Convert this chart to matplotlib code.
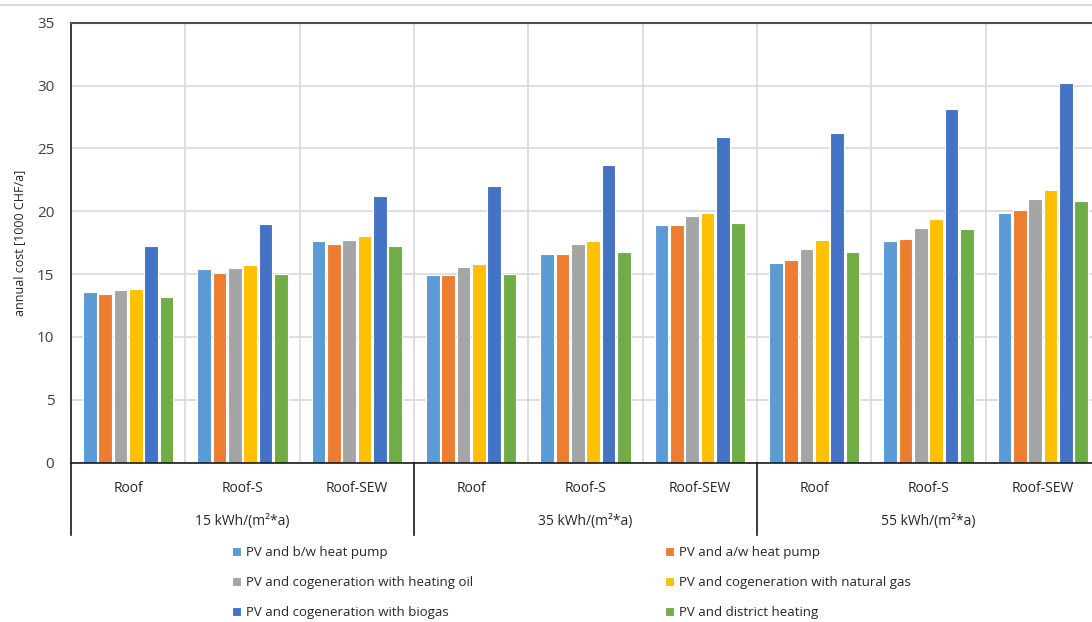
import numpy as np
import matplotlib.pyplot as plt
from matplotlib.lines import Line2D

plt.rcParams['font.family'] = ['Open Sans', 'DejaVu Sans']

roofs = ["Roof", "Roof-S", "Roof-SEW"]
demands = ["15 kWh/(m²*a)", "35 kWh/(m²*a)", "55 kWh/(m²*a)"]

series_names = [
    "PV and b/w heat pump",
    "PV and a/w heat pump",
    "PV and cogeneration with heating oil",
    "PV and cogeneration with natural gas",
    "PV and cogeneration with biogas",
    "PV and district heating",
]
colors = ["#5B9BD5", "#ED7D31", "#A5A5A5", "#FFC000", "#4472C4", "#70AD47"]

# annual cost per case, order: 15 Roof, Roof-S, Roof-SEW, 35 ..., 55 ...
bw_heat_pump = [13.6, 15.4, 17.6, 14.9, 16.6, 18.9, 15.9, 17.6, 19.9]
aw_heat_pump = [13.4, 15.1, 17.4, 14.9, 16.6, 18.9, 16.1, 17.8, 20.1]
cogen_oil    = [13.7, 15.5, 17.7, 15.6, 17.4, 19.6, 17.0, 18.7, 21.0]
cogen_gas    = [13.8, 15.7, 18.0, 15.8, 17.6, 19.9, 17.7, 19.4, 21.7]
cogen_biogas = [17.2, 19.0, 21.2, 22.0, 23.7, 25.9, 26.2, 28.1, 30.2]
district     = [13.2, 15.0, 17.2, 15.0, 16.8, 19.1, 16.8, 18.6, 20.8]

values = [bw_heat_pump, aw_heat_pump, cogen_oil, cogen_gas, cogen_biogas, district]

fig = plt.figure(figsize=(10.92, 6.22), dpi=100)
ax = fig.add_axes([71 / 1092, 159.3 / 622, 1029 / 1092, 440 / 622])

n_cat = len(roofs) * len(demands)
x = np.arange(n_cat)
slot = 0.134
for i, (vals, c) in enumerate(zip(values, colors)):
    ax.bar(x + (i - 2.5) * slot, vals, width=0.118, color=c,
           edgecolor="white", linewidth=0.8, zorder=2, label=series_names[i])

ax.set_xlim(-0.5, n_cat - 0.5)
ax.set_ylim(0, 35)
ax.set_yticks(range(0, 36, 5))
ax.tick_params(axis="y", length=0, pad=12, labelsize=11, labelcolor="#404040")
ax.set_xticks([])
ax.grid(axis="y", color="#D9D9D9", linewidth=1.2, zorder=0)
for b in np.arange(0.5, n_cat - 0.5, 1):
    ax.axvline(b, color="#D9D9D9", linewidth=1.2, zorder=0)

for s in ["left", "bottom"]:
    ax.spines[s].set_color("#1a1a1a")
    ax.spines[s].set_linewidth(1.2)
ax.spines["top"].set_color("#505050")
ax.spines["top"].set_linewidth(1.5)
ax.spines["right"].set_visible(False)

ax.set_ylabel("annual cost [1000 CHF/a]", fontsize=9, color="#262626", labelpad=8)

# two-level category labels under the axis
trans = ax.get_xaxis_transform()
for k in range(n_cat):
    ax.text(k, -0.058, roofs[k % 3], transform=trans, ha="center", va="center",
            fontsize=10, color="#262626")
for g in range(len(demands)):
    ax.text(3 * g + 1, -0.133, demands[g], transform=trans, ha="center", va="center",
            fontsize=10, color="#262626")
for b in [-0.5, 2.5, 5.5]:
    ax.add_line(Line2D([b, b], [0, -0.165], transform=trans, color="#1a1a1a",
                       linewidth=1.2, clip_on=False))

# thin border line along the top of the image
fig.add_artist(Line2D([0, 1], [1 - 5 / 622, 1 - 5 / 622], transform=fig.transFigure,
                      color="#D9D9D9", linewidth=1.5))

# legend filled row by row over two columns
handles, labels = ax.get_legend_handles_labels()
order = [0, 2, 4, 1, 3, 5]
fig.legend([handles[i] for i in order], [labels[i] for i in order], ncol=2,
           loc="upper left", bbox_to_anchor=(220 / 1092, 1 - 534 / 622),
           frameon=False, fontsize=9.5, handlelength=0.7, handleheight=0.7,
           handletextpad=0.4, columnspacing=14.5, labelspacing=1.3,
           labelcolor="#262626")

fig.savefig("out.png", dpi=100)
